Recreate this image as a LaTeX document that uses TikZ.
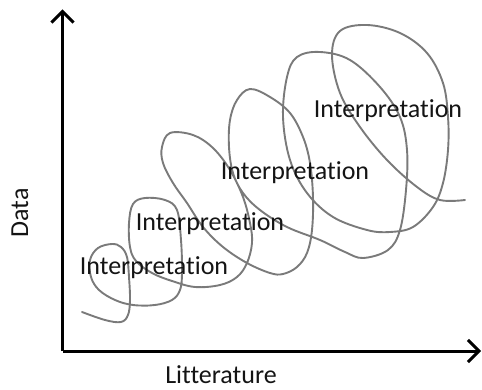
\documentclass[tikz,border=0pt]{standalone}
\usepackage{fontspec}
\setmainfont{Carlito}[Ligatures={NoCommon,NoRequired,NoContextual}]
\usetikzlibrary{arrows.meta}
\definecolor{loopgray}{RGB}{122,122,122}
\definecolor{txt}{RGB}{20,20,20}
\tikzset{
  axis/.style={line width=3pt, -{Straight Barb[length=11pt,width=22pt]}},
  loopline/.style={draw=loopgray, line width=1.9pt, line cap=round, line join=round},
  lbl/.style={anchor=base, inner sep=0pt, text=txt, font=\fontsize{26}{30}\selectfont}
}
\begin{document}
\begin{tikzpicture}[x=1pt,y=-1pt]
\useasboundingbox (0,0) rectangle (482,390);
\coordinate (O) at (62.5,351);
\coordinate (ytip) at (62.5,9.5);
\coordinate (xtip) at (481,351);
\draw[loopline] plot[smooth, tension=0.6] coordinates {
(82,312) (105,320) (121,322) (128,315) (130,300) (129,277) (127,257) (121,247) (112,244) (98,248) (90,260) (91,277) (99,290) (115,300) (133,305) (155,305) (172,300) (180,290) (182,273) (181,240) (177,210) (165,200) (145,198) (133,204) (129,223) (130,247) (136,261) (152,273) (172,281) (195,287) (220,285) (237,277) (247,263) (252,243) (250,223) (243,197) (230,170) (213,148) (193,135) (170,133) (162,147) (163,163) (173,183) (187,203) (203,227) (223,247) (247,263) (270,273) (283,274) (297,267) (307,253) (312,230) (313,197) (310,163) (303,137) (290,113) (270,97) (250,89) (237,100) (230,120) (229,147) (233,173) (243,193) (260,210) (287,227) (320,240) (345,252) (363,258) (388,250) (400,230) (406,190) (407,150) (400,117) (380,87) (350,60) (320,52) (297,57) (287,77) (283,117) (290,160) (307,193) (333,217) (367,230) (390,232) (413,227) (433,207) (443,183) (448,150) (448,117) (443,83) (427,53) (400,33) (367,25) (340,31) (332,55) (340,93) (360,127) (387,160) (417,187) (440,200) (465,200)
};
\draw[axis] (O) -- (ytip);
\draw[axis] (O) -- (xtip);
\node[lbl] (i1) at (388,118) {Interpretation};
\node[lbl] (i2) at (295,180) {Interpretation};
\node[lbl] (i3) at (210,231) {Interpretation};
\node[lbl] (i4) at (154,275) {Interpretation};
\node[lbl] (xl) at (221,383) {Litterature};
\node[lbl, rotate=90] (yl) at (28,213) {Data};
\end{tikzpicture}
\end{document}
